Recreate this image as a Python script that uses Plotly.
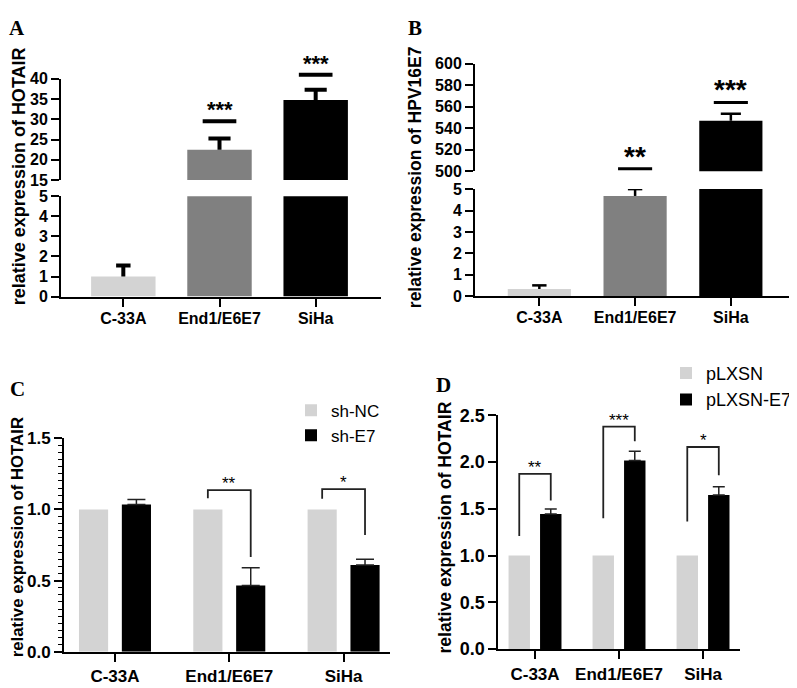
import plotly.graph_objects as go

# The page body adds an 8px margin, so the figure is laid out in
# page pixels shifted by (OX, OY) and sized to fill the rest of the window.
OX, OY = 8, 8
W, H = 797 - OX, 688 - OY
SANS = "Liberation Sans, Arial, sans-serif"
SERIF = "Liberation Serif, Times New Roman, serif"

# ---------------- data ----------------
categories = ["C-33A", "End1/E6E7", "SiHa"]
cat_pos = [0, 1, 2]

# Panel A: relative expression of HOTAIR
hotair_a = [1.0, 22.5, 34.8]
hotair_a_err = [0.55, 2.8, 2.5]
colors_a = ["#d3d3d3", "#808080", "#000000"]
sig_a_y = [None, 29.5, 41.0]
sig_a_txt = ["", "***", "***"]

# Panel B: relative expression of HPV16E7
hpv_b = [0.33, 4.68, 547.0]
hpv_b_err = [0.17, 0.32, 6.5]
sig_b_y = [None, 502.5, 564.0]
sig_b_txt = ["", "**", "***"]

# Panel C: sh-NC vs sh-E7
shnc_c = [1.0, 1.0, 1.0]
she7_c = [1.034, 0.466, 0.609]
she7_c_err = [0.036, 0.125, 0.041]
brk_c_left = [None, 1.079, 1.075]
brk_c_top = [None, 1.136, 1.143]
brk_c_right = [None, 0.666, 0.82]
sig_c_txt = ["", "**", "*"]

# Panel D: pLXSN vs pLXSN-E7
plxsn_d = [1.0, 1.0, 1.0]
plxsn_e7_d = [1.445, 2.016, 1.649]
plxsn_e7_d_err = [0.052, 0.10, 0.086]
brk_d_left = [1.21, 1.40, 1.365]
brk_d_top = [1.873, 2.379, 2.161]
brk_d_right = [1.59, 2.223, 1.859]
sig_d_txt = ["**", "***", "*"]

LIGHT = "#d3d3d3"


def px(x):
    return (x - OX) / W


def py(y):
    return 1 - (y - OY) / H


fig = go.Figure()


def err_path(xs, ys, es, half):
    """T-shaped error bars (stem + cap, no lower cap) as line coordinates."""
    lx, ly = [], []
    for x, y, e in zip(xs, ys, es):
        lx += [x, x, None, x - half, x + half, None]
        ly += [y, y + e, None, y + e, y + e, None]
    return lx, ly


# ---- Panel A (broken axis: y lower, y2 upper) ----
for ya, half in (("y", 0.075), ("y2", 0.115)):
    fig.add_trace(go.Bar(
        x=cat_pos, y=hotair_a, xaxis="x", yaxis=ya, width=0.67,
        marker=dict(color=colors_a, line=dict(width=0)),
        showlegend=False, hoverinfo="skip"))
    ex, ey = err_path(cat_pos, hotair_a, hotair_a_err, half)
    fig.add_trace(go.Scatter(x=ex, y=ey, xaxis="x", yaxis=ya, mode="lines",
                             line=dict(color="black", width=4), showlegend=False,
                             hoverinfo="skip"))

# ---- Panel B (broken axis: y3 lower, y4 upper) ----
for ya, half in (("y3", 0.075), ("y4", 0.105)):
    fig.add_trace(go.Bar(
        x=cat_pos, y=hpv_b, xaxis="x2", yaxis=ya, width=0.66,
        marker=dict(color=colors_a, line=dict(width=0)),
        showlegend=False, hoverinfo="skip"))
    ex, ey = err_path(cat_pos, hpv_b, hpv_b_err, half)
    fig.add_trace(go.Scatter(x=ex, y=ey, xaxis="x2", yaxis=ya, mode="lines",
                             line=dict(color="black", width=2.5), showlegend=False,
                             hoverinfo="skip"))

# ---- Panel C ----
fig.add_trace(go.Bar(x=cat_pos, y=shnc_c, name="sh-NC", xaxis="x3", yaxis="y5",
                     marker=dict(color=LIGHT, line=dict(width=0)), legend="legend"))
fig.add_trace(go.Bar(x=cat_pos, y=she7_c, name="sh-E7", xaxis="x3", yaxis="y5",
                     marker=dict(color="black", line=dict(width=0)), legend="legend",
                     error_y=dict(type="data", array=she7_c_err, arrayminus=[0]*3,
                                  symmetric=False, color="#222", thickness=1.5, width=9)))

# ---- Panel D ----
fig.add_trace(go.Bar(x=cat_pos, y=plxsn_d, name="pLXSN", xaxis="x4", yaxis="y6",
                     marker=dict(color=LIGHT, line=dict(width=0)), legend="legend2"))
fig.add_trace(go.Bar(x=cat_pos, y=plxsn_e7_d, name="pLXSN-E7", xaxis="x4", yaxis="y6",
                     marker=dict(color="black", line=dict(width=0)), legend="legend2",
                     error_y=dict(type="data", array=plxsn_e7_d_err, arrayminus=[0]*3,
                                  symmetric=False, color="#222", thickness=1.5, width=6)))

shapes = []
annotations = []


def star(xref, yref, x, y, text, size, bold, yshift):
    annotations.append(dict(xref=xref, yref=yref, x=x, y=y, text=text, showarrow=False,
                            yanchor="bottom", yshift=yshift,
                            font=dict(family=SANS, size=size, color="black",
                                      weight="bold" if bold else "normal")))


# significance lines A (on y7: hidden axis with same scale as y2, extended upward) / B
for i in cat_pos:
    if sig_a_y[i] is not None:
        shapes.append(dict(type="line", xref="x", yref="y7", x0=i - 0.175, x1=i + 0.175,
                           y0=sig_a_y[i], y1=sig_a_y[i], line=dict(color="black", width=4)))
        star("x", "y7", i, sig_a_y[i], sig_a_txt[i], 22, True, -3)
    if sig_b_y[i] is not None:
        shapes.append(dict(type="line", xref="x2", yref="y4", x0=i - 0.178, x1=i + 0.178,
                           y0=sig_b_y[i], y1=sig_b_y[i], line=dict(color="black", width=3)))
        star("x2", "y4", i, sig_b_y[i], sig_b_txt[i], 28, True, -5)

OFF = 0.1875
for i in cat_pos:
    if brk_c_top[i] is not None:
        shapes.append(dict(type="path", xref="x3", yref="y5",
                           path=f"M{i-OFF},{brk_c_left[i]} L{i-OFF},{brk_c_top[i]} "
                                f"L{i+OFF},{brk_c_top[i]} L{i+OFF},{brk_c_right[i]}",
                           line=dict(color="#222", width=1.8)))
        star("x3", "y5", i, brk_c_top[i], sig_c_txt[i], 17, False, -5)
    shapes.append(dict(type="path", xref="x4", yref="y6",
                       path=f"M{i-OFF},{brk_d_left[i]} L{i-OFF},{brk_d_top[i]} "
                            f"L{i+OFF},{brk_d_top[i]} L{i+OFF},{brk_d_right[i]}",
                       line=dict(color="#222", width=1.8)))
    star("x4", "y6", i, brk_d_top[i], sig_d_txt[i], 17, False, -5)

# panel letters
for lab, (lx, ly) in {"A": (17, 18), "B": (415, 18), "C": (17, 390.5),
                      "D": (443, 386.5)}.items():
    annotations.append(dict(xref="paper", yref="paper", x=px(lx), y=py(ly), text=lab,
                            showarrow=False, xanchor="center", yanchor="middle",
                            font=dict(family=SERIF, size=21, color="black", weight="bold")))

# y titles
for txt, (tx, ty), fs in (("relative expression of HOTAIR", (19, 171), 18),
                          ("relative expression of HPV16E7", (415, 172), 17.5),
                          ("relative expression of HOTAIR", (17, 543), 16.8),
                          ("relative expression of HOTAIR", (445, 533), 17.6)):
    annotations.append(dict(xref="paper", yref="paper", x=px(tx), y=py(ty), text=txt,
                            textangle=-90, showarrow=False, xanchor="center", yanchor="middle",
                            font=dict(family=SANS, size=fs, color="black", weight="bold")))


def yax(domain, rng, dtick, anchor, fs=16, **kw):
    d = dict(domain=domain, range=rng, dtick=dtick, tick0=rng[0], anchor=anchor,
             showline=True, linecolor="black", linewidth=2, ticks="outside",
             ticklen=8, tickwidth=2, tickcolor="black", showgrid=False, zeroline=False,
             tickfont=dict(family=SANS, size=fs, color="black", weight="bold"),
             fixedrange=True)
    d.update(kw)
    return d


def xax(domain, rng, anchor, fs=16, standoff=0):
    return dict(domain=domain, range=rng, anchor=anchor, tickvals=cat_pos, ticktext=categories,
                showline=True, linecolor="black", linewidth=2, ticks="outside",
                ticklen=8, tickwidth=2, tickcolor="black", showgrid=False, zeroline=False,
                ticklabelstandoff=standoff,
                tickfont=dict(family=SANS, size=fs, color="black", weight="bold"),
                fixedrange=True)


# Panel A upper axis geometry (page px): 15 at y=175, 40 at y=70.7
A_UP_LO, A_UP_HI = 175.0, 70.7
a_scale = (A_UP_LO - A_UP_HI) / 25.0
a_ext_top = 15 + (A_UP_LO - OY) / a_scale

fig.update_layout(
    width=W, height=H, autosize=False,
    margin=dict(l=0, r=0, t=0, b=0, pad=0),
    paper_bgcolor="white", plot_bgcolor="rgba(0,0,0,0)",
    barmode="group", bargap=0.25, bargroupgap=0.32,
    xaxis=xax([px(61), px(380.7)], [-0.648, 2.676], "y", standoff=-2),
    yaxis=yax([py(295), py(191.7)], [0, 5], 1, "x"),
    yaxis2=yax([py(A_UP_LO), py(A_UP_HI)], [15, 40], 5, "x"),
    yaxis7=dict(domain=[py(A_UP_LO), 1], range=[15, a_ext_top], anchor="x",
                visible=False, fixedrange=True),
    xaxis2=xax([px(475), px(795)], [-0.672, 2.67], "y3", standoff=-2),
    yaxis3=yax([py(294.5), py(184.3)], [0, 5], 1, "x2"),
    yaxis4=yax([py(166), py(55)], [500, 600], 20, "x2"),
    xaxis3=xax([px(64), px(390)], [-0.446, 2.406], "y5", fs=17),
    yaxis5=yax([py(661), py(441)], [0, 1.5], 0.5, "x3", fs=17, tickformat=".1f",
               minor=dict(dtick=0.05, ticks="outside", ticklen=4, tickwidth=1.2,
                          tickcolor="black")),
    xaxis4=xax([px(498.3), px(740)], [-0.437, 2.44], "y6", fs=17),
    yaxis6=yax([py(658.3), py(417.3)], [0, 2.5], 0.5, "x4", fs=18, tickformat=".1f"),
    legend=dict(x=px(291), y=py(394), xanchor="left", yanchor="top",
                font=dict(family=SANS, size=17, color="black"), bgcolor="rgba(0,0,0,0)",
                itemwidth=30, tracegroupgap=0),
    legend2=dict(x=px(666), y=py(355), xanchor="left", yanchor="top",
                 font=dict(family=SANS, size=18, color="black"), bgcolor="rgba(0,0,0,0)",
                 itemwidth=30, tracegroupgap=0),
    shapes=shapes, annotations=annotations,
)

fig.write_html("out.html")
